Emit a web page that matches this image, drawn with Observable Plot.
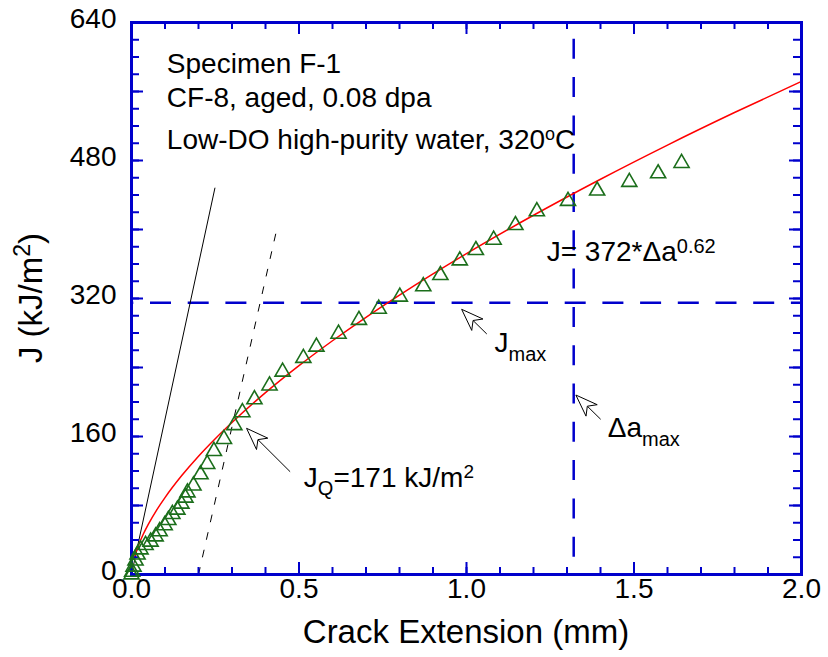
<!DOCTYPE html>
<html>
<head>
<meta charset="utf-8">
<script src="https://cdn.jsdelivr.net/npm/d3@7"></script>
<script src="https://cdn.jsdelivr.net/npm/@observablehq/plot@0.6"></script>
<style>
  html, body { margin: 0; padding: 0; background: #ffffff; }
  #chart svg { display: block; }
</style>
</head>
<body>
<div id="chart"></div>
<script>
// ---------------- data ----------------
// measured J-R data points: crack extension (mm) and J (kJ/m^2)
const crackExt = [0.000, 0.002, 0.006, 0.012, 0.018, 0.027, 0.042, 0.057, 0.072, 0.084,
                  0.099, 0.110, 0.122, 0.137, 0.149, 0.161, 0.167, 0.185, 0.206, 0.226,
                  0.246, 0.276, 0.307, 0.331, 0.367, 0.412, 0.451, 0.513, 0.552, 0.618,
                  0.679, 0.738, 0.801, 0.871, 0.922, 0.980, 1.028, 1.081, 1.146, 1.210,
                  1.303, 1.390, 1.486, 1.572, 1.642];
const jValues  = [0, 3, 9, 16, 23, 29, 34, 38, 44, 50,
                  57, 63, 70, 75, 82, 89, 95, 103, 116, 128,
                  143, 157, 173, 188, 203, 219, 235, 251, 264, 279,
                  295, 308, 322, 334, 347, 364, 376, 388, 405, 421,
                  433, 445, 455, 465, 477];

// power-law fit curve J = 372*Δa^0.62
const fitX = [0.01, 0.02, 0.035, 0.05, 0.075, 0.1, 0.15, 0.2, 0.25, 0.3, 0.4, 0.5, 0.6, 0.7,
              0.8, 0.9, 1.0, 1.2, 1.4, 1.6, 1.8, 2.0];
const fitJ = [21.4, 32.9, 46.6, 58.1, 74.7, 89.2, 114.7, 137.2, 157.5, 176.3, 210.8, 242.1, 271.0, 298.2,
              323.9, 348.5, 372.0, 416.5, 458.3, 497.9, 535.6, 571.7];

// blunting line (solid) and 0.2-mm offset line (dashed)
const bluntX = [0, 0.249];
const bluntJ = [0, 448];
const offsetX = [0.2, 0.437];
const offsetJ = [0, 406];

// limits
const jMax = 315;
const daMax = 1.32;

// annotation arrows: tip and tail
const arrowTipX  = [0.345, 0.987, 1.328];
const arrowTipJ  = [168.9, 306.9, 207.5];
const arrowTailX = [0.475, 1.062, 1.402];
const arrowTailJ = [118.6, 278.3, 179.4];

// axes
const xTicks = [0, 0.5, 1.0, 1.5, 2.0];
const xTickLabels = ["0.0", "0.5", "1.0", "1.5", "2.0"];
const yTicks = [0, 160, 320, 480, 640];
const yTickLabels = ["0", "160", "320", "480", "640"];
const xMinor = d3.range(0, 2.0001, 0.1);
const xMajor = [0, 0.5, 1.0, 1.5, 2.0];
const yMinor = d3.range(0, 641, 20);
const yMajor = [0, 80, 160, 240, 320, 400, 480, 560, 640];

const xTitle = "Crack Extension (mm)";
const infoLines = ["Specimen F-1", "CF-8, aged, 0.08 dpa", "Low-DO high-purity water, 320"];

// ---------------- styles ----------------
const FONT = "'Liberation Sans', Arial, Helvetica, sans-serif";
const BLUE = "#0000cc";
const GREEN = "#1b6e1b";
const W = 828, H = 657;
const mL = 131, mR = 27, mT = 22, mB = 83;
const plotH = H - mT - mB;

const points = crackExt.map((x, i) => ({x, y: jValues[i]}));
const fit = fitX.map((x, i) => ({x, y: fitJ[i]}));
const blunt = bluntX.map((x, i) => ({x, y: bluntJ[i]}));
const offs = offsetX.map((x, i) => ({x, y: offsetJ[i]}));

// rich text custom mark
function richText(specs) {
  return (index, scales, values, dims) => {
    const g = d3.create("svg:g").attr("font-family", FONT).attr("fill", "black");
    for (const s of specs) {
      const px = s.px != null ? s.px(dims) : scales.x(s.x);
      const py = s.py != null ? s.py(dims) : scales.y(s.y);
      const t = g.append("text")
        .attr("text-anchor", s.anchor || "start")
        .attr("font-size", s.size);
      if (s.rotate) t.attr("transform", `translate(${px},${py}) rotate(${s.rotate})`);
      else t.attr("x", px).attr("y", py);
      for (const p of s.parts) {
        t.append("tspan")
          .attr("font-size", p.size || s.size)
          .attr("dy", p.dy || 0)
          .text(p.t);
      }
    }
    return g.node();
  };
}

// hollow pointer arrows
function pointerArrows(index, scales) {
  const g = d3.create("svg:g");
  for (let i = 0; i < arrowTipX.length; i++) {
    const tx = scales.x(arrowTipX[i]), ty = scales.y(arrowTipJ[i]);
    const ex = scales.x(arrowTailX[i]), ey = scales.y(arrowTailJ[i]);
    const len = Math.hypot(ex - tx, ey - ty);
    const ux = (ex - tx) / len, uy = (ey - ty) / len;
    const nx = -uy, ny = ux;
    const headL = 22, headW = 8, notch = 16;
    const b1 = [tx + ux * headL + nx * headW, ty + uy * headL + ny * headW];
    const b2 = [tx + ux * headL - nx * headW, ty + uy * headL - ny * headW];
    const nt = [tx + ux * notch, ty + uy * notch];
    g.append("line")
      .attr("x1", nt[0]).attr("y1", nt[1]).attr("x2", ex).attr("y2", ey)
      .attr("stroke", "black").attr("stroke-width", 1);
    g.append("path")
      .attr("d", `M${tx},${ty}L${b1[0]},${b1[1]}L${nt[0]},${nt[1]}L${b2[0]},${b2[1]}Z`)
      .attr("fill", "white").attr("stroke", "black").attr("stroke-width", 1)
      .attr("stroke-linejoin", "miter");
  }
  return g.node();
}

const chart = Plot.plot({
  width: W,
  height: H,
  marginLeft: mL,
  marginRight: mR,
  marginTop: mT,
  marginBottom: mB,
  x: {domain: [0, 2], axis: null},
  y: {domain: [0, 640], axis: null},
  style: {fontFamily: FONT, background: "white", overflow: "visible"},
  marks: [
    // limit lines
    Plot.ruleY([jMax], {x1: 0, x2: 2, stroke: BLUE, strokeWidth: 2.5,
      strokeDasharray: "21,16.7", strokeDashoffset: 18.7}),
    Plot.ruleX([daMax], {y1: 640, y2: 0, stroke: BLUE, strokeWidth: 2.5,
      strokeDasharray: "20,18.3", strokeDashoffset: 21.5}),
    // construction lines
    Plot.line(blunt, {x: "x", y: "y", stroke: "black", strokeWidth: 1}),
    Plot.line(offs, {x: "x", y: "y", stroke: "black", strokeWidth: 1, strokeDasharray: "7,11"}),
    // fit curve
    Plot.line(fit, {x: "x", y: "y", stroke: "#ff0000", strokeWidth: 1.5, curve: "monotone-x"}),
    // frame and inward ticks
    Plot.frame({stroke: BLUE, strokeWidth: 3}),
    Plot.tickX(xMinor, {x: d => d, stroke: BLUE, strokeWidth: 2, insetTop: plotH - 7}),
    Plot.tickX(xMajor, {x: d => d, stroke: BLUE, strokeWidth: 2, insetTop: plotH - 12}),
    Plot.tickX(xMinor, {x: d => d, stroke: BLUE, strokeWidth: 2, insetBottom: plotH - 7}),
    Plot.tickX(xMajor, {x: d => d, stroke: BLUE, strokeWidth: 2, insetBottom: plotH - 12}),
    Plot.tickY(yMinor, {y: d => d, stroke: BLUE, strokeWidth: 2, insetRight: (W - mL - mR) - 8}),
    Plot.tickY(yMajor, {y: d => d, stroke: BLUE, strokeWidth: 2, insetRight: (W - mL - mR) - 12}),
    Plot.tickY(yMinor, {y: d => d, stroke: BLUE, strokeWidth: 2, insetLeft: (W - mL - mR) - 8}),
    Plot.tickY(yMajor, {y: d => d, stroke: BLUE, strokeWidth: 2, insetLeft: (W - mL - mR) - 12}),
    // data
    Plot.dot(points, {x: "x", y: "y", symbol: "triangle", r: 5.6, stroke: GREEN, strokeWidth: 1.6, fill: "none"}),
    // arrows
    pointerArrows,
    // tick labels
    Plot.text(xTicks, {x: d => d, text: (d, i) => xTickLabels[i], frameAnchor: "bottom", dy: 23,
      fontSize: 28, fill: "black"}),
    Plot.text(yTicks, {y: d => d, text: (d, i) => yTickLabels[i], frameAnchor: "left", textAnchor: "end",
      dx: -15, dy: -3, fontSize: 28, fill: "black"}),
    // titles and annotations
    richText([
      {px: d => d.marginLeft + (d.width - d.marginLeft - d.marginRight) / 2, py: d => d.height - d.marginBottom + 69,
        anchor: "middle", size: 33, parts: [{t: xTitle}]},
      {px: d => 42, py: d => d.marginTop + (d.height - d.marginTop - d.marginBottom) / 2,
        anchor: "middle", size: 33, rotate: -90,
        parts: [{t: "J (kJ/m"}, {t: "2", size: 23, dy: -12}, {t: ")", dy: 12}]},
      {x: 0.107, y: 580.5, size: 28, parts: [{t: infoLines[0]}]},
      {x: 0.107, y: 541.8, size: 28, parts: [{t: infoLines[1]}]},
      {x: 0.107, y: 492.4, size: 28, parts: [{t: infoLines[2]}, {t: "o", size: 18, dy: -9}, {t: "C", dy: 9}]},
      {x: 1.241, y: 363.3, size: 28, parts: [{t: "J= 372*\u0394a"}, {t: "0.62", size: 20, dy: -8}]},
      {x: 1.085, y: 257.7, size: 28, parts: [{t: "J"}, {t: "max", size: 20, dy: 9}]},
      {x: 1.423, y: 158.5, size: 28, parts: [{t: "\u0394a"}, {t: "max", size: 20, dy: 9}]},
      {x: 0.516, y: 100.5, size: 28, parts: [{t: "J"}, {t: "Q", size: 20, dy: 8},
        {t: "=171 kJ/m", dy: -8}, {t: "2", size: 19, dy: -9}]}
    ])
  ]
});

document.getElementById("chart").appendChild(chart);
</script>
</body>
</html>
